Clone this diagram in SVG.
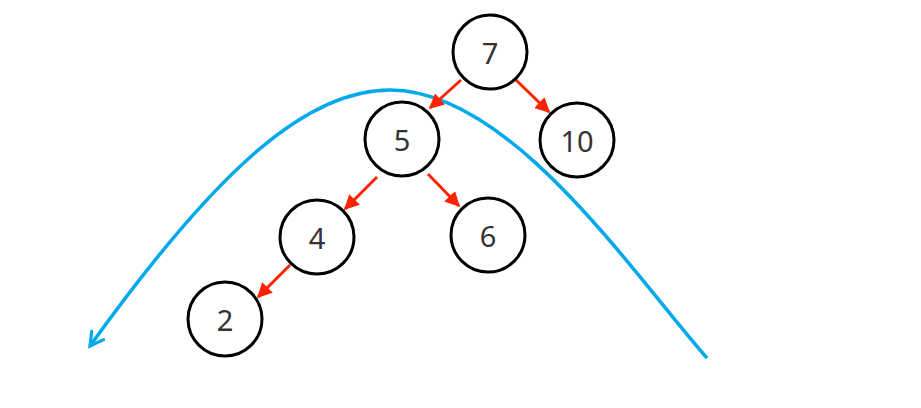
<svg xmlns="http://www.w3.org/2000/svg" width="921" height="408" viewBox="0 0 921 408">
<style>
.node circle{fill:#fff;stroke:#000;stroke-width:3}
.node text{font-family:"Noto Sans","Open Sans",sans-serif;font-size:29px;fill:#333;text-anchor:middle;dominant-baseline:central}
.edge{stroke:#ff2200;stroke-width:3;fill:none}
.curve{stroke:#00a8ec;stroke-width:3.5;fill:none}
</style>
<defs>
<marker id="ah" viewBox="0 0 10 10" refX="9" refY="5" markerWidth="5" markerHeight="5" orient="auto" markerUnits="strokeWidth">
<path d="M0,0 L10,5 L0,10 Z" fill="#ff2200"/>
</marker>
<marker id="bh" viewBox="0 0 12 12" refX="10" refY="6" markerWidth="5" markerHeight="5" orient="auto" markerUnits="strokeWidth">
<path d="M1,1 L10,6 L1,11" fill="none" stroke="#00a8ec" stroke-width="2.2" stroke-linecap="round"/>
</marker>
</defs>
<g id="connectors">
<path class="curve" d="M707,358 C630,270 510,90 390,90 C310,90 222,162 90,346" marker-end="url(#bh)"/>
<line class="edge" x1="461" y1="80" x2="430" y2="108" marker-end="url(#ah)"/>
<line class="edge" x1="516" y1="80" x2="549" y2="112" marker-end="url(#ah)"/>
<line class="edge" x1="377" y1="177" x2="345" y2="209" marker-end="url(#ah)"/>
<line class="edge" x1="428" y1="174" x2="459" y2="206" marker-end="url(#ah)"/>
<line class="edge" x1="290" y1="265" x2="258" y2="297" marker-end="url(#ah)"/>
</g>
<g id="n7" class="node"><circle cx="490" cy="52" r="37"/><text x="490" y="52">7</text></g>
<g id="n10" class="node"><circle cx="577" cy="140" r="37"/><text x="577" y="140">10</text></g>
<g id="n5" class="node"><circle cx="402" cy="139" r="37"/><text x="402" y="139">5</text></g>
<g id="n4" class="node"><circle cx="317" cy="237" r="37"/><text x="317" y="237">4</text></g>
<g id="n6" class="node"><circle cx="488" cy="235" r="37"/><text x="488" y="235">6</text></g>
<g id="n2" class="node"><circle cx="225" cy="319" r="37"/><text x="225" y="319">2</text></g>
</svg>
